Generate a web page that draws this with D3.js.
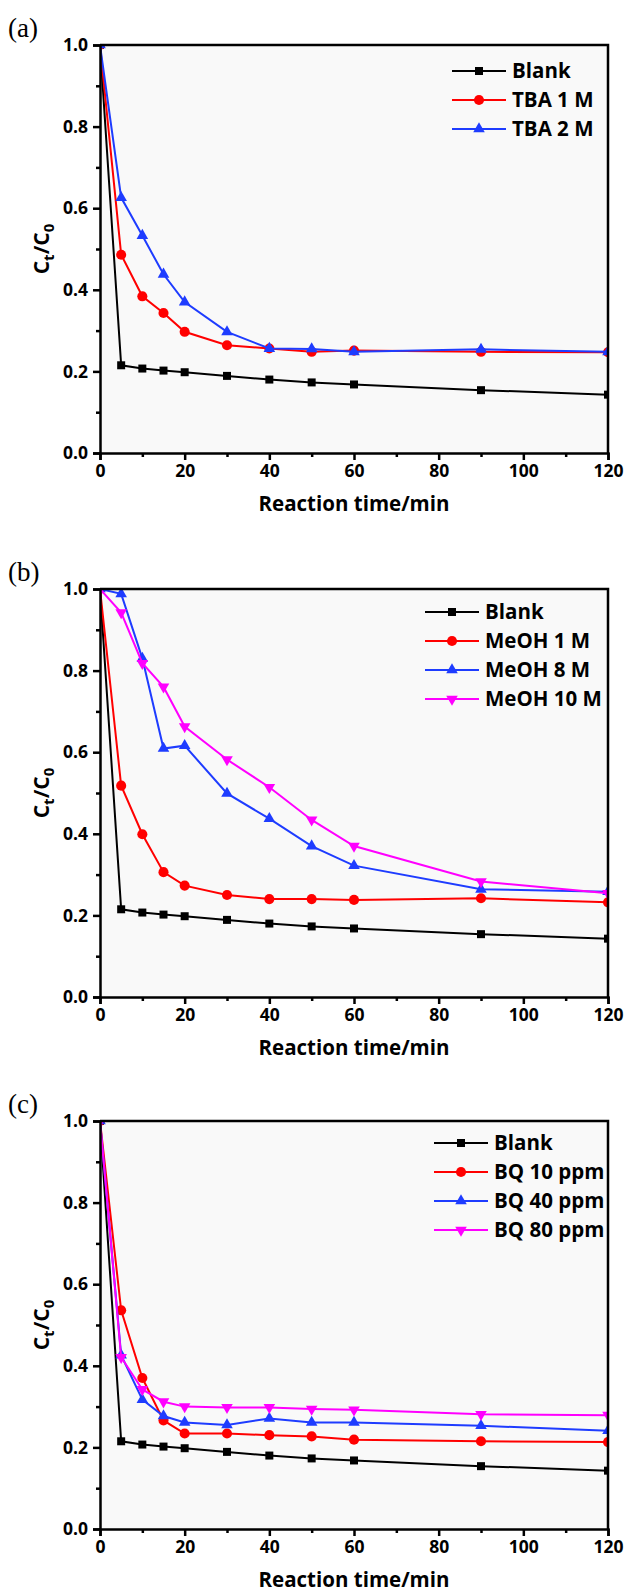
<!DOCTYPE html>
<html>
<head>
<meta charset="utf-8">
<script src="https://cdn.jsdelivr.net/npm/d3@7"></script>
<style>
  body { margin: 0; background: #fff; }
  svg { display: block; }
</style>
</head>
<body>
<svg id="chart" width="628" height="1594"></svg>
<script>
// reaction times (min)
var time = [0, 5, 10, 15, 20, 30, 40, 50, 60, 90, 120];

// Ct/C0
var blank  = [1.0, 0.215, 0.207, 0.202, 0.198, 0.189, 0.180, 0.173, 0.168, 0.154, 0.143];
var tba1   = [1.0, 0.486, 0.384, 0.343, 0.297, 0.264, 0.256, 0.248, 0.251, 0.248, 0.247];
var tba2   = [1.0, 0.626, 0.533, 0.438, 0.370, 0.297, 0.256, 0.255, 0.248, 0.254, 0.248];
var meoh1  = [1.0, 0.518, 0.399, 0.306, 0.273, 0.250, 0.240, 0.240, 0.238, 0.242, 0.232];
var meoh8  = [1.0, 0.988, 0.830, 0.609, 0.616, 0.499, 0.437, 0.370, 0.322, 0.264, 0.258];
var meoh10 = [1.0, 0.942, 0.818, 0.760, 0.663, 0.582, 0.514, 0.434, 0.370, 0.283, 0.254];
var bq10   = [1.0, 0.536, 0.370, 0.266, 0.234, 0.234, 0.230, 0.227, 0.219, 0.215, 0.213];
var bq40   = [1.0, 0.426, 0.317, 0.277, 0.261, 0.255, 0.271, 0.261, 0.261, 0.253, 0.241];
var bq80   = [1.0, 0.421, 0.342, 0.312, 0.300, 0.298, 0.298, 0.294, 0.292, 0.281, 0.279];

var xTicks = [0, 20, 40, 60, 80, 100, 120];
var xMinor = [10, 30, 50, 70, 90, 110];
var yTicks = [0, 0.2, 0.4, 0.6, 0.8, 1.0];
var yMinor = [0.1, 0.3, 0.5, 0.7, 0.9];

var panelLetters = ["(a)", "(b)", "(c)"];
var panelNames = [
    ["Blank", "TBA 1 M", "TBA 2 M"],
    ["Blank", "MeOH 1 M", "MeOH 8 M", "MeOH 10 M"],
    ["Blank", "BQ 10 ppm", "BQ 40 ppm", "BQ 80 ppm"]
];
var panelSeries = [
    [blank, tba1, tba2],
    [blank, meoh1, meoh8, meoh10],
    [blank, bq10, bq40, bq80]
];

// layout
var left = 100, right = 608;
var tops = [45, 589, 1121];
var plotH = 408;
var legendX = [452, 425, 434];   // start of legend line
var legendY = [71, 612, 1143];
var legendStep = 29;
var sansFont = "'Open Sans', sans-serif";

var styles = [
    { color: "#000000", shape: "square" },
    { color: "#ff0000", shape: "circle" },
    { color: "#1e3cff", shape: "up" },
    { color: "#ff00ff", shape: "down" }
];

var svg = d3.select("#chart")
    .attr("font-family", sansFont)
    .attr("font-weight", "bold");

var x = d3.scaleLinear().domain([0, 120]).range([left, right]);

function symbolPath(shape) {
    if (shape === "square") return d3.symbol().type(d3.symbolSquare).size(64)();
    if (shape === "circle") return d3.symbol().type(d3.symbolCircle).size(80)();
    return d3.symbol().type(d3.symbolTriangle).size(58)();
}

function drawPanel(p) {
    var top = tops[p];
    var y = d3.scaleLinear().domain([0, 1]).range([top + plotH, top]);
    var g = svg.append("g");

    g.append("rect")
        .attr("x", left).attr("y", top)
        .attr("width", right - left).attr("height", plotH)
        .attr("fill", "#f9f9f9");

    var clipId = "clip" + p;
    g.append("clipPath").attr("id", clipId)
        .append("rect")
        .attr("x", left).attr("y", top)
        .attr("width", right - left).attr("height", plotH);

    var plot = g.append("g").attr("clip-path", "url(#" + clipId + ")");

    var line = d3.line()
        .x(function (d, i) { return x(time[i]); })
        .y(function (d) { return y(d); });

    panelSeries[p].forEach(function (vals, s) {
        var st = styles[s];
        plot.append("path")
            .datum(vals)
            .attr("d", line)
            .attr("fill", "none")
            .attr("stroke", st.color)
            .attr("stroke-width", 2);

        plot.selectAll(".m" + s)
            .data(vals)
            .enter().append("path")
            .attr("class", "m" + s)
            .attr("d", symbolPath(st.shape))
            .attr("transform", function (d, i) {
                var t = "translate(" + x(time[i]) + "," + y(d) + ")";
                if (st.shape === "down") t += " rotate(180)";
                return t;
            })
            .attr("fill", st.color);
    });

    // axes
    g.append("g")
        .attr("transform", "translate(0," + (top + plotH) + ")")
        .call(d3.axisBottom(x).tickValues(xTicks).tickSize(7).tickPadding(5)
            .tickFormat(d3.format("d")));
    g.append("g")
        .attr("transform", "translate(0," + (top + plotH) + ")")
        .call(d3.axisBottom(x).tickValues(xMinor).tickSize(4).tickFormat(""))
        .select(".domain").remove();

    g.append("g")
        .attr("transform", "translate(" + left + ",0)")
        .call(d3.axisLeft(y).tickValues(yTicks).tickSize(7).tickPadding(5)
            .tickFormat(d3.format(".1f")));
    g.append("g")
        .attr("transform", "translate(" + left + ",0)")
        .call(d3.axisLeft(y).tickValues(yMinor).tickSize(4).tickFormat(""))
        .select(".domain").remove();

    g.selectAll(".domain").attr("stroke-width", 2.5);
    g.selectAll(".tick line").attr("stroke-width", 2.5);
    g.selectAll(".tick text")
        .attr("font-size", 17.5)
        .attr("font-family", sansFont)
        .attr("font-weight", "bold")
        .attr("fill", "#000");

    // top and right frame
    g.append("path")
        .attr("d", "M" + left + "," + top + "H" + right + "V" + (top + plotH))
        .attr("fill", "none")
        .attr("stroke", "#000")
        .attr("stroke-width", 2.5);

    // axis titles
    g.append("text")
        .attr("x", (left + right) / 2)
        .attr("y", top + plotH + 58)
        .attr("text-anchor", "middle")
        .attr("font-size", 20.5)
        .text("Reaction time/min");

    var yl = g.append("text")
        .attr("transform", "translate(49," + (top + plotH / 2) + ") rotate(-90)")
        .attr("text-anchor", "middle")
        .attr("font-size", 21);
    yl.append("tspan").text("C");
    yl.append("tspan").attr("font-size", 15).attr("dy", 5).text("t");
    yl.append("tspan").attr("dy", -5).text("/C");
    yl.append("tspan").attr("font-size", 15).attr("dy", 5).text("0");

    // panel letter
    g.append("text")
        .attr("x", 8)
        .attr("y", top - 8)
        .attr("font-family", "'Liberation Serif', serif")
        .attr("font-weight", "normal")
        .attr("font-size", 27)
        .text(panelLetters[p]);

    // legend
    var lx = legendX[p];
    panelNames[p].forEach(function (name, s) {
        var st = styles[s];
        var ly = legendY[p] + s * legendStep;
        g.append("line")
            .attr("x1", lx).attr("x2", lx + 54)
            .attr("y1", ly).attr("y2", ly)
            .attr("stroke", st.color).attr("stroke-width", 2);
        var t = "translate(" + (lx + 27) + "," + ly + ")";
        if (st.shape === "down") t += " rotate(180)";
        g.append("path")
            .attr("d", symbolPath(st.shape))
            .attr("transform", t)
            .attr("fill", st.color);
        g.append("text")
            .attr("x", lx + 60)
            .attr("y", ly + 7)
            .attr("font-size", 20.5)
            .text(name);
    });
}

[0, 1, 2].forEach(drawPanel);
</script>
</body>
</html>
